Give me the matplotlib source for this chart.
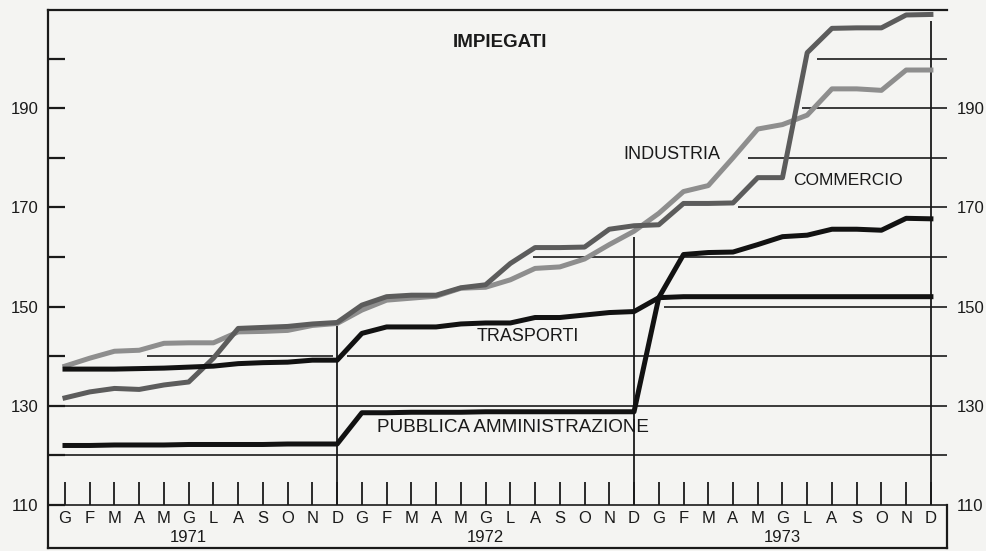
import numpy as np
import matplotlib
matplotlib.use('Agg')
import matplotlib.pyplot as plt

plt.rcParams['font.family'] = ['Liberation Sans', 'DejaVu Sans']

months = ['G', 'F', 'M', 'A', 'M', 'G', 'L', 'A', 'S', 'O', 'N', 'D']
years = ['1971', '1972', '1973']

# indici mensili (1971-1973)
industria = [138.0, 139.6, 141.0, 141.2, 142.6, 142.7, 142.7, 144.9, 145.0, 145.2, 146.2, 146.6,
             149.3, 151.3, 151.7, 152.1, 153.7, 153.9, 155.4, 157.7, 158.0, 159.6, 162.5, 165.2,
             168.8, 173.2, 174.4, 180.0, 185.8, 186.7, 188.6, 193.9, 193.9, 193.6, 197.7, 197.7]
commercio = [131.6, 132.8, 133.5, 133.3, 134.2, 134.8, 139.6, 145.6, 145.8, 146.0, 146.5, 146.8,
             150.3, 152.0, 152.3, 152.3, 153.8, 154.4, 158.7, 161.9, 161.9, 162.0, 165.6, 166.3,
             166.5, 170.8, 170.8, 170.9, 176.0, 176.0, 201.2, 206.1, 206.2, 206.2, 208.8, 208.9]
trasporti = [137.4, 137.4, 137.4, 137.5, 137.6, 137.8, 138.0, 138.5, 138.7, 138.8, 139.2, 139.2,
             144.6, 145.9, 145.9, 145.9, 146.5, 146.7, 146.7, 147.8, 147.8, 148.3, 148.8, 149.0,
             151.8, 152.0, 152.0, 152.0, 152.0, 152.0, 152.0, 152.0, 152.0, 152.0, 152.0, 152.0]
pubblica = [122.0, 122.0, 122.1, 122.1, 122.1, 122.2, 122.2, 122.2, 122.2, 122.3, 122.3, 122.3,
            128.6, 128.6, 128.7, 128.7, 128.7, 128.8, 128.8, 128.8, 128.8, 128.8, 128.8, 128.8,
            151.8, 160.5, 160.9, 161.0, 162.5, 164.1, 164.4, 165.6, 165.6, 165.4, 167.8, 167.7]

major_ticks = [110, 130, 150, 170, 190]
minor_ticks = [120, 140, 160, 180, 200]

x = np.arange(len(industria))
bg = '#f4f4f2'
ink = '#1a1a1a'

fig = plt.figure(figsize=(9.87, 5.51), dpi=100)
fig.patch.set_facecolor(bg)
ax = fig.add_axes([48 / 987, 3 / 551, 899 / 987, 538 / 551])
ax.set_facecolor(bg)
xmin, xmax = -0.687, 35.65
ymin, ymax = 101.33, 209.8
ax.set_xlim(xmin, xmax)
ax.set_ylim(ymin, ymax)

# linee orizzontali (disegnate solo dove il grafico originale le mostra)
grid_segments = [(110, xmin, xmax), (120, xmin, xmax), (130, xmin, xmax),
                 (140, 3.3, 10.85), (140, 11.4, xmax), (150, 24.2, xmax),
                 (160, 18.9, xmax), (170, 27.2, xmax), (180, 27.6, xmax),
                 (190, 29.8, xmax), (200, 30.4, xmax)]
for val, x0, x1 in grid_segments:
    ax.hlines(val, x0, x1, color=ink, lw=1.2, zorder=1)

# tacche mensili e separatori d'anno
ax.vlines(x, 110, 114.6, color=ink, lw=1.3, zorder=1)
year_tops = [146.0, 164.0, 207.5]
for k, top in enumerate(year_tops):
    ax.vlines(11 + 12 * k, 110, top, color=ink, lw=1.3, zorder=1)

# serie
ax.plot(x, industria, color='#8e8e8e', lw=3.6, zorder=3, solid_joinstyle='round')
ax.plot(x, commercio, color='#5c5c5c', lw=3.6, zorder=4, solid_joinstyle='round')
ax.plot(x, trasporti, color='#121212', lw=3.6, zorder=5, solid_joinstyle='round')
ax.plot(x, pubblica, color='#121212', lw=3.6, zorder=5, solid_joinstyle='round')

# etichette
ax.text(17.58, 203.3, 'IMPIEGATI', fontsize=13.5, fontweight='bold', color=ink,
        ha='center', va='center')
ax.text(22.55, 180.6, 'INDUSTRIA', fontsize=13, color=ink, ha='left', va='center')
ax.text(29.43, 175.5, 'COMMERCIO', fontsize=12.5, color=ink, ha='left', va='center')
ax.text(16.65, 143.9, 'TRASPORTI', fontsize=13, color=ink, ha='left', va='center')
ax.text(12.61, 125.7, 'PUBBLICA AMMINISTRAZIONE', fontsize=13.6, color=ink,
        ha='left', va='center')

for k, yr in enumerate(years):
    for m, lab in enumerate(months):
        ax.text(12 * k + m, 107.2, lab, fontsize=12, color=ink, ha='center', va='center')
    ax.text(12 * k + 5, 103.4, yr, fontsize=12, color=ink, ha='center', va='center')

# assi
ax.set_xticks([])
ax.set_yticks(major_ticks)
ax.set_yticks(minor_ticks, minor=True)
ax.tick_params(axis='y', which='both', direction='in', length=12, width=1.6,
               labelsize=12, labelcolor=ink, pad=7, color=ink)
for s in ['left', 'top', 'bottom', 'right']:
    ax.spines[s].set_linewidth(1.6)
    ax.spines[s].set_color(ink)
ax.spines['right'].set_bounds(ymin, 110)

ax2 = ax.twinx()
ax2.set_ylim(ymin, ymax)
ax2.set_yticks(major_ticks)
ax2.tick_params(axis='y', length=0, labelsize=12, labelcolor=ink, pad=7)
for s in ax2.spines.values():
    s.set_visible(False)

fig.savefig('out.png', dpi=100, facecolor=bg)
